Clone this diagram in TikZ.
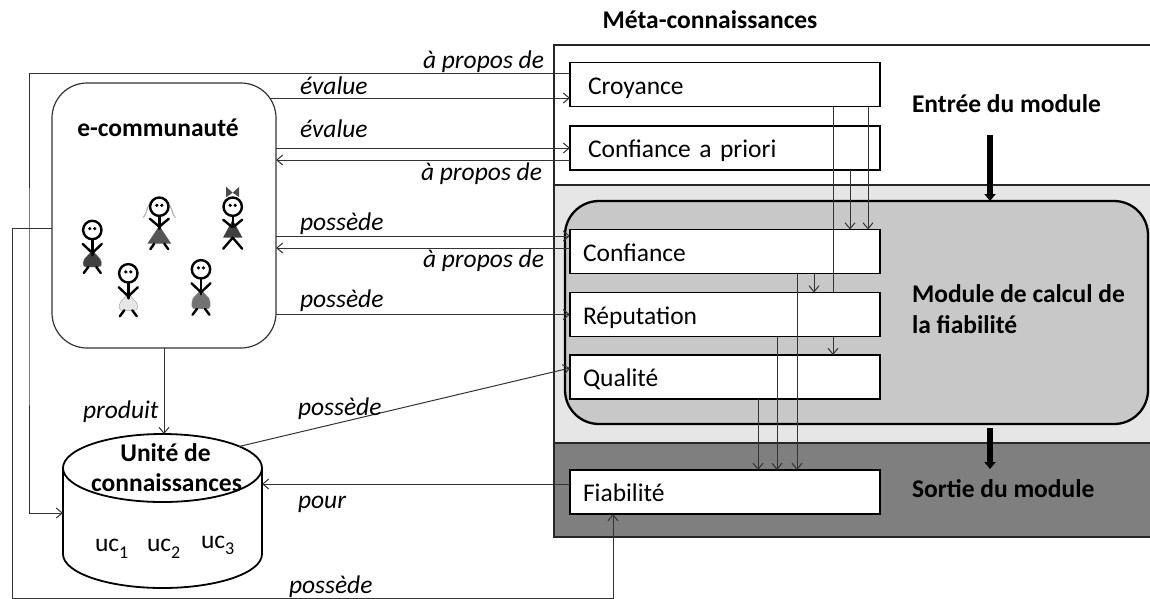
\documentclass[tikz,border=0pt]{standalone}
\usepackage{fontspec}
\setmainfont{Carlito}
\usetikzlibrary{arrows.meta,calc}
\definecolor{lgrey}{HTML}{E6E6E6}
\definecolor{mgrey}{HTML}{C8C8C8}
\definecolor{dgrey}{HTML}{7F7F7F}
\definecolor{lnc}{HTML}{333333}
\definecolor{skA}{HTML}{404040}
\definecolor{skB}{HTML}{555555}
\definecolor{skC}{HTML}{E6E6E6}
\definecolor{skD}{HTML}{727272}
\newcommand\fsz{\fontsize{25.5}{30}\selectfont}
\newcommand\ucsub[1]{\raisebox{-6.5pt}{\fontsize{18}{18}\selectfont #1}}
\newcommand\sfhead{%
  \draw[fig] (0,0) circle[radius=9.2];
  \fill (-2.5,-1.4) circle[radius=1.8];
  \fill (2.5,-1.4) circle[radius=1.8];}
% bell-skirt figure: #1 x, #2 y, #3 colour, #4 extra skirt length
\newcommand\bellfig[4]{%
  \begin{scope}[shift={(#1,#2)}]
    \fill[#3, draw=black!40, line width=0.4pt] (-2.5,23) -- (2.5,23) -- (8,29)
      .. controls (10.5,34+#4) and (9,37+#4) .. (6,37+#4) -- (-6,37+#4)
      .. controls (-9,37+#4) and (-10.5,34+#4) .. (-8,29) -- cycle;
    \sfhead
    \draw[fig] (0,9.2) -- (0,25);
    \draw[fig] (-9.5,14) -- (0,23) -- (9.5,14);
    \draw[fig] (-4,37+#4) -- (-8.5,43+#4);
    \draw[fig] (4,37+#4) -- (8.5,43+#4);
  \end{scope}}
\begin{document}
\begin{tikzpicture}[x=1pt,y=-1pt,
  every node/.style={inner sep=0pt,outer sep=0pt},
  region/.style={draw=black!85, line width=1.2pt, anchor=north west},
  mbox/.style={draw=black, line width=1.4pt, fill=white, minimum height=44pt,
    text width=284pt, inner xsep=13pt, align=left, text height=19pt, text depth=0pt, font=\fsz},
  mboxw/.style={mbox, text width=274pt, inner xsep=18pt},
  lab/.style={font=\fsz\itshape},
  ttl/.style={font=\fsz\bfseries},
  conn/.style={draw=lnc, line width=1pt},
  arr/.style={-{Straight Barb[length=6pt,width=10pt]}},
  thk/.style={draw=black, line width=5.5pt, -{Triangle[length=7pt,width=11pt]}},
  fig/.style={draw=black, line width=2.4pt, line cap=round}]
\useasboundingbox (0,0) rectangle (1150,598);

% ---- regions of the meta-knowledge part
\node[region, fill=white, minimum width=600pt, minimum height=492pt] (meta) at (554,45) {};
\node[region, fill=lgrey, minimum width=600pt, minimum height=258pt] (entree) at (554,185) {};
\node[region, fill=dgrey, minimum width=600pt, minimum height=94pt] (sortie) at (554,443) {};
\node[draw=black, line width=2.3pt, fill=mgrey, rounded corners=34pt,
  minimum width=583pt, minimum height=223pt, anchor=north west] (module) at (565,201) {};

% ---- boxes
\node[mboxw] (croy) at (725,84.5) {Croyance};
\node[mboxw] (cap)  at (725,148)  {Confiance a priori};
\node[mbox]  (conf) at (725,251.5) {Confiance};
\node[mbox]  (rep)  at (725,314.5) {Réputation};
\node[mbox]  (qual) at (725,377)  {Qualité};
\node[mbox]  (fiab) at (725,492)  {Fiabilité};

% ---- vertical connectors
\draw[conn,arr] ([xshift=143pt]croy.south) -- ([xshift=143pt]conf.north);
\draw[conn,arr] ([xshift=125pt]cap.south) -- ([xshift=125pt]conf.north);
\draw[conn] ([xshift=108pt]croy.south) -- ([xshift=108pt]rep.north);
\draw[conn,arr] ([xshift=108pt]rep.south) -- ([xshift=108pt]qual.north);
\draw[conn,arr] ([xshift=89pt]conf.south) -- ([xshift=89pt]rep.north);
\draw[conn,arr] ([xshift=72pt]conf.south) -- ([xshift=72pt]fiab.north);
\draw[conn,arr] ([xshift=52pt]rep.south) -- ([xshift=52pt]fiab.north);
\draw[conn,arr] ([xshift=33pt]qual.south) -- ([xshift=33pt]fiab.north);

% ---- titles of the right part
\node[ttl, anchor=base] (metat) at (710,28.3) {Méta-connaissances};
\node[ttl, anchor=base west] (entt) at (912,112.5) {Entrée du module};
\node[ttl, anchor=base west] (modt1) at (912,302.5) {Module de calcul de};
\node[ttl, anchor=base west] (modt2) at (912,333) {la fiabilité};
\node[ttl, anchor=base west] (sortt) at (912,497) {Sortie du module};
\coordinate (ta1) at (990,135);
\draw[thk] (ta1) -- (ta1 |- module.north);
\coordinate (tb1) at (990,428);
\coordinate (tb2) at (990,469);
\draw[thk] (tb1) -- (tb2);

% ---- e-communaute
\node[draw=black!80, line width=1.2pt, rounded corners=35pt, minimum width=224pt,
  minimum height=265pt, anchor=north west] (ecomm) at (52,83) {};
\node[ttl, anchor=base] (ecommt) at (158,136.5) {e-communauté};

\bellfig{92.3}{230}{skA}{0}
\bellfig{128.3}{273.3}{skC}{0}
\bellfig{201}{269.3}{skD}{2.5}
% figure with pigtails
\begin{scope}[shift={(159.3,206.7)}]
  \draw[gray!55, line width=1.3pt] (-7,-5) .. controls (-13,-2) and (-12,7) .. (-16,11);
  \draw[gray!55, line width=1.3pt] (7,-5) .. controls (13,-2) and (12,7) .. (16,11);
  \fill[skB] (0,19) -- (-12,37) -- (12,37) -- cycle;
  \sfhead
  \draw[fig] (0,9.2) -- (0,22);
  \draw[fig] (-9.5,12) -- (0,20) -- (9.5,12);
  \draw[fig] (-5,37) -- (-9,42.5);
  \draw[fig] (5,37) -- (9,42.5);
\end{scope}
% figure with a bow
\begin{scope}[shift={(232.7,206.7)}]
  \fill[gray!60!black] (0,-14) -- (-6.5,-20) -- (-6.5,-9.5) -- cycle;
  \fill[gray!60!black] (0,-14) -- (6.5,-20) -- (6.5,-9.5) -- cycle;
  \fill[skA] (0,13) -- (-9.7,31) -- (9.7,31) -- cycle;
  \sfhead
  \draw[fig] (0,9.2) -- (0,20);
  \draw[fig] (-9.5,13) -- (-1,20);
  \draw[fig] (9.5,13) -- (1,20);
  \draw[fig] (0,31) -- (-9.5,42);
  \draw[fig] (0,31) -- (9.5,42);
\end{scope}

% ---- unite de connaissances (cylinder)
\node[minimum width=199pt, minimum height=154pt, anchor=north west] (ucyl) at (63,434) {};
\draw[line width=1.8pt] (162.5,468) ellipse[x radius=99.5, y radius=34];
\draw[line width=1.8pt] (63,468) -- (63,554)
  arc[start angle=180, end angle=0, x radius=99.5, y radius=34] -- (262,468);
\node[ttl, anchor=base] (uct1) at (165.5,461.5) {Unité de};
\node[ttl, anchor=base] (uct2) at (166.5,491) {connaissances};
\node[font=\fsz, anchor=base west] (uc1) at (95,551.5) {uc\ucsub{1}};
\node[font=\fsz, anchor=base west] (uc2) at (147,551.5) {uc\ucsub{2}};
\node[font=\fsz, anchor=base west] (uc3) at (201,548) {uc\ucsub{3}};

% ---- connectors on the left
\coordinate (y73) at (0,73);
\coordinate (y160) at (0,160);
\coordinate (y228) at (0,228);
\coordinate (y236) at (0,236);
\coordinate (y248) at (0,248);
\coordinate (y368) at (0,368);
\coordinate (y484) at (0,484);
\coordinate (y513) at (0,513);
\coordinate (e1) at (270,98);
\coordinate (lc1) at (29,300);
\coordinate (lc2) at (12,598.6);
\coordinate (cq) at (239,446.5);

\draw[conn,arr] (croy.west |- y73) -| (lc1) |- (ucyl.west |- y513);
\draw[conn,arr] (e1) -- (croy.west |- e1);
\draw[conn,arr] (ecomm.east |- cap.west) -- (cap.west);
\draw[conn,arr] (cap.west |- y160) -- (ecomm.east |- y160);
\draw[conn,arr] (ecomm.east |- y236) -- (conf.west |- y236);
\draw[conn,arr] (conf.west |- y248) -- (ecomm.east |- y248);
\draw[conn,arr] (ecomm.east |- rep.west) -- (rep.west);
\draw[conn,arr] (ecomm.west |- y228) -| (lc2) -| ([xshift=-112pt]fiab.south);
\draw[conn,arr] (ecomm.south) -- (ecomm.south |- ucyl.north);
\draw[conn,arr] (cq) -- (qual.west |- y368);
\draw[conn,arr] (fiab.west |- y484) -- (ucyl.east |- y484);

% ---- connector labels
\node[lab, anchor=base east] (l1) at (544,68) {à propos de};
\node[lab, anchor=base west] (l2) at (300,94) {évalue};
\node[lab, anchor=base west] (l3) at (300,137) {évalue};
\node[lab, anchor=base east] (l4) at (542,180) {à propos de};
\node[lab, anchor=base west] (l5) at (300,230) {possède};
\node[lab, anchor=base east] (l6) at (544,267) {à propos de};
\node[lab, anchor=base west] (l7) at (300,307) {possède};
\node[lab, anchor=base west] (l8) at (83,418) {produit};
\node[lab, anchor=base west] (l9) at (298,415) {possède};
\node[lab, anchor=base west] (l10) at (298,508) {pour};
\node[lab, anchor=base west] (l11) at (289,593) {possède};
\end{tikzpicture}
\end{document}
